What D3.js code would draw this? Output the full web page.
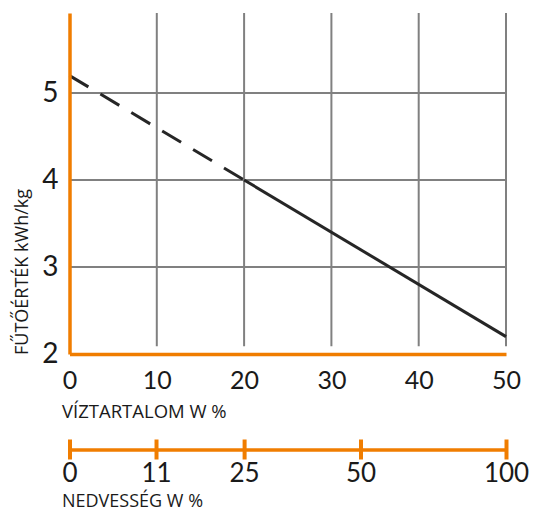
<!DOCTYPE html>
<html>
<head>
<meta charset="utf-8">
<script src="https://cdn.jsdelivr.net/npm/d3@7"></script>
<style>
  body { margin: 0; background: #fff; }
  svg { display: block; font-family: Lato, 'Open Sans', sans-serif; }
</style>
</head>
<body>
<svg id="chart" width="535" height="512"></svg>
<script>
// water content (%) on x, heating value kWh/kg on y
const waterContent = [0, 20, 50]
const heatingValue = [5.2, 4.0, 2.2]
const dashedUntil = 20 // left part of the line is extrapolated (dashed)

const xTicks = [0, 10, 20, 30, 40, 50]
const yTicks = [2, 3, 4, 5]
const moistureTicks = [0, 11, 25, 50, 100]

const ORANGE = '#f07d00'
const GRID = '#808080'
const LINE = '#262626'
const TEXT = '#1a1a1a'

const svg = d3.select('#chart')
const margin = { top: 13, left: 69.5, right: 29 }
const width = 535

const xScale = d3.scaleLinear().domain([0, 50]).range([margin.left, width - margin.right])
const yScale = d3.scaleLinear().domain([2, 5]).range([354, 93])
const yTop = margin.top

// moisture (dry basis) -> water content position, piecewise through the tick values
const moistureScale = d3
    .scaleLinear()
    .domain(moistureTicks)
    .range(moistureTicks.map(u => xScale((100 * u) / (100 + u))))

// grid
const grid = svg.append('g').attr('stroke', GRID).attr('stroke-width', 2)
grid.selectAll('line.v')
    .data(xTicks.filter(d => d > 0))
    .join('line')
    .attr('x1', d => xScale(d))
    .attr('x2', d => xScale(d))
    .attr('y1', yTop)
    .attr('y2', yScale(2.09))
grid.selectAll('line.h')
    .data(yTicks.filter(d => d > 2))
    .join('line')
    .attr('x1', xScale(0))
    .attr('x2', xScale(50))
    .attr('y1', d => yScale(d))
    .attr('y2', d => yScale(d))

// main line
const pts = waterContent.map((w, i) => [w, heatingValue[i]])
const lineGen = d3.line().x(d => xScale(d[0])).y(d => yScale(d[1]))
svg.append('path')
    .attr('d', lineGen(pts.filter(d => d[0] <= dashedUntil)))
    .attr('fill', 'none')
    .attr('stroke', LINE)
    .attr('stroke-width', 3)
    .attr('stroke-dasharray', '22,14')
svg.append('path')
    .attr('d', lineGen(pts.filter(d => d[0] >= dashedUntil)))
    .attr('fill', 'none')
    .attr('stroke', LINE)
    .attr('stroke-width', 3)

// orange axes
const xAxis = g =>
    g.attr('transform', `translate(0,${yScale(2)})`)
        .call(d3.axisBottom(xScale).tickValues(xTicks).tickFormat(d3.format('d')).tickSize(0).tickPadding(17))
        .call(g => g.select('.domain').attr('stroke', ORANGE).attr('stroke-width', 3.5))
        .call(g => g.selectAll('text').attr('font-size', 25).attr('fill', TEXT).attr('font-family', 'Lato'))
const yAxis = g =>
    g.attr('transform', `translate(${xScale(0)},0)`)
        .call(d3.axisLeft(d3.scaleLinear().domain([2, 5.92]).range([yScale(2), yTop])).tickValues(yTicks).tickFormat(d3.format('d')).tickSize(0).tickPadding(11))
        .call(g => g.select('.domain').attr('stroke', ORANGE).attr('stroke-width', 3.5))
        .call(g => g.selectAll('text').attr('font-size', 28).attr('fill', TEXT).attr('font-family', 'Lato'))
svg.append('g').call(yAxis)
svg.append('g').call(xAxis)

// secondary moisture axis
const mAxis = g =>
    g.attr('transform', 'translate(0,449.5)')
        .call(d3.axisBottom(moistureScale).tickValues(moistureTicks).tickSizeInner(0).tickSizeOuter(0).tickPadding(14))
        .call(g => g.select('.domain').attr('stroke', ORANGE).attr('stroke-width', 3.5))
        .call(g => g.selectAll('.tick line').attr('stroke', ORANGE).attr('stroke-width', 4).attr('y1', -10).attr('y2', 10))
        .call(g => g.selectAll('text').attr('font-size', 26).attr('fill', TEXT).attr('font-family', 'Lato'))
svg.append('g').call(mAxis)

// titles
const titleFont = "'Open Sans', sans-serif"
svg.append('text')
    .attr('x', 62)
    .attr('y', 418)
    .attr('font-size', 18.5)
    .attr('font-family', titleFont)
    .attr('fill', TEXT)
    .text('VÍZTARTALOM W %')
svg.append('text')
    .attr('x', 62)
    .attr('y', 506.5)
    .attr('font-size', 18)
    .attr('font-family', titleFont)
    .attr('fill', TEXT)
    .text('NEDVESSÉG W %')
svg.append('text')
    .attr('transform', 'translate(28,355) rotate(-90)')
    .attr('font-size', 18)
    .attr('font-family', titleFont)
    .attr('fill', TEXT)
    .text('FŰTŐÉRTÉK kWh/kg')
</script>
</body>
</html>
